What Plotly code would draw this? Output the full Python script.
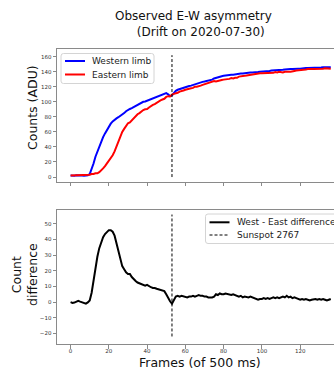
import plotly.graph_objects as go

# ---- data -------------------------------------------------------------
frames = list(range(137))

west_limb = [
    2.0, 1.6, 1.8, 2.4, 2.6, 2.2, 2.0, 1.6, 1.5, 2.2,
    4.0, 10, 18, 27, 34, 41, 47, 53, 58, 63,
    67, 71, 74, 76.5, 78, 79.5, 81, 83, 85, 87.5,
    89.5, 90.5, 91.5, 93, 94.5, 96, 97, 98.5, 100, 100.5,
    101.5, 102.5, 104, 105, 106, 107.5, 108.5, 109.5, 110.5, 111,
    111.5, 110, 107.5, 108.5, 112, 114.5, 116, 117, 118, 118.5,
    119.5, 120, 121, 121.5, 122.5, 123.5, 124, 125, 125.5, 126.5,
    127, 127.5, 128, 129, 129.5, 131, 132, 132.5, 133.5, 134,
    134.5, 135, 135.5, 135.5, 136, 136, 136.5, 136.5, 137, 137.5,
    137.5, 138, 138, 138.5, 139, 139, 139.5, 139.5, 139.5, 140,
    140, 140.5, 140.5, 141, 141, 141.5, 141.5, 142, 142, 142.5,
    142.5, 142.5, 143, 143.5, 143, 143.5, 143.5, 144, 144, 144,
    144, 144.5, 144.5, 145, 145, 145, 145, 145.5, 145.5, 145.5,
    145.5, 145.5, 146, 146, 145.5, 146, 146,
]

east_limb = [
    2.0, 2.1, 2.1, 1.9, 1.8, 1.9, 2.0, 2.2, 2.5, 2.4,
    3.0, 4, 4, 5, 5, 6.5, 8.5, 11.5, 14.5, 18,
    21, 25, 29, 34, 40.5, 48.5, 55, 60, 64, 68.5,
    71.5, 72.5, 75.5, 78.5, 81, 83.5, 85, 87.5, 89, 90,
    90.5, 92.5, 94.5, 96, 97, 99, 100.5, 102, 103, 104,
    106.5, 107.5, 107, 109.5, 110.5, 111, 112, 113.5, 114, 115,
    116, 117, 117.5, 118, 118.5, 120, 120, 120.5, 121.5, 122.5,
    123.5, 124, 125, 126, 126.5, 127.5, 127, 128, 128, 129,
    129.5, 129.5, 130.5, 130.5, 131.5, 131, 132, 132, 133.5, 133.5,
    134.5, 134.5, 135, 135.5, 135.5, 136, 137, 137.5, 138, 138,
    138, 138, 138.5, 138.5, 139, 139, 138.5, 139.5, 139, 140,
    139.5, 139, 140, 139.5, 140, 140, 141, 141, 141.5, 142,
    142.5, 142.5, 143, 143, 143.5, 144, 143.5, 143.5, 143.5, 144,
    143.5, 144, 144, 144.5, 144.5, 144.5, 144,
]

west_minus_east = [
    0.0, -0.5, -0.3, 0.5, 0.8, 0.3, 0.0, -0.6, -1.0, -0.2,
    1.0, 6, 14, 22, 29, 34.5, 38.5, 41.5, 43.5, 45,
    46, 46, 45, 42.5, 37.5, 31, 26, 23, 21, 19,
    18, 18, 16, 14.5, 13.5, 12.5, 12, 11, 11, 10.5,
    11, 10, 9.5, 9, 9, 8.5, 8, 7.5, 7.5, 7,
    5, 2.5, 0.5, -1, 1.5, 3.5, 4, 3.5, 4, 3.5,
    3.5, 3, 3.5, 3.5, 4, 3.5, 4, 4.5, 4, 4,
    3.5, 3.5, 3, 3, 3, 3.5, 5, 4.5, 5.5, 5,
    5, 5.5, 5, 5, 4.5, 5, 4.5, 4.5, 3.5, 4,
    3, 3.5, 3, 3, 3.5, 3, 2.5, 2, 1.5, 2,
    2, 2.5, 2, 2.5, 2, 2.5, 3, 2.5, 3, 2.5,
    3, 3.5, 3, 4, 3, 3.5, 2.5, 3, 2.5, 2,
    1.5, 2, 1.5, 2, 1.5, 1, 1.5, 2, 2, 1.5,
    2, 1.5, 2, 1.5, 1, 1.5, 2,
]

sunspot_frame = 53
sunspot_counts_span = [0, 162]
sunspot_diff_span = [-22, 56]

x_ticks = list(range(0, 141, 20))
counts_ticks = list(range(0, 161, 20))
diff_ticks = list(range(-20, 51, 10))

# ---- page geometry (pixels) -------------------------------------------
W, H = 334, 370
FONT = "DejaVu Sans"


def fx(p):
    return p / W


def fy(p):
    return 1 - p / H


AX_LEFT = 57
TOP_PANEL = (49, 181.7)
BOT_PANEL = (210, 344.3)
X_RANGE = [-7.1, 137.7]

SPINE = "#8a8a8a"
TICKFONT = dict(family=FONT, size=5.5, color="#333")
DASH = "3px,2px"

fig = go.Figure()

fig.add_trace(go.Scatter(
    x=frames, y=west_limb, mode="lines", name="Western limb",
    line=dict(color="#0000ff", width=2), xaxis="x", yaxis="y",
))
fig.add_trace(go.Scatter(
    x=frames, y=east_limb, mode="lines", name="Eastern limb",
    line=dict(color="#ff0000", width=2), xaxis="x", yaxis="y",
))
fig.add_trace(go.Scatter(
    x=[sunspot_frame, sunspot_frame], y=sunspot_counts_span, mode="lines",
    name="Sunspot 2767", line=dict(color="black", width=1, dash=DASH),
    xaxis="x", yaxis="y", hoverinfo="skip",
))
fig.add_trace(go.Scatter(
    x=frames, y=west_minus_east, mode="lines", name="West - East difference",
    line=dict(color="black", width=2), xaxis="x2", yaxis="y2",
))
fig.add_trace(go.Scatter(
    x=[sunspot_frame, sunspot_frame], y=sunspot_diff_span, mode="lines",
    name="Sunspot 2767", line=dict(color="black", width=1, dash=DASH),
    xaxis="x2", yaxis="y2", hoverinfo="skip",
))

common_axis = dict(
    showline=True, linecolor=SPINE, linewidth=1, ticks="outside", ticklen=3.5,
    tickwidth=1, tickcolor=SPINE, showgrid=False, zeroline=False, tickfont=TICKFONT,
)

fig.update_layout(
    width=W, height=H,
    margin=dict(l=0, r=0, t=0, b=0),
    paper_bgcolor="white", plot_bgcolor="white",
    showlegend=False,
    xaxis=dict(common_axis, domain=[fx(AX_LEFT), 1], range=X_RANGE, anchor="y",
               tickvals=x_ticks, showticklabels=False, mirror=True),
    yaxis=dict(common_axis, domain=[fy(TOP_PANEL[1]), fy(TOP_PANEL[0])],
               range=[-6.2, 170.2], anchor="x", tickvals=counts_ticks),
    xaxis2=dict(common_axis, domain=[fx(AX_LEFT), 1], range=X_RANGE, anchor="y2",
                tickvals=x_ticks, mirror=True, ticklabelstandoff=-2),
    yaxis2=dict(common_axis, domain=[fy(BOT_PANEL[1]), fy(BOT_PANEL[0])],
                range=[-27, 58.9], anchor="x2", tickvals=diff_ticks),
)

# ---- legends (drawn as framed keys in page pixels) ---------------------
shapes = []
annotations = []


def legend_box(x0, y0, x1, y1, entries, sample_x, text_x):
    r = 2.5
    path = (
        f"M {fx(x0 + r)} {fy(y0)} L {fx(x1 - r)} {fy(y0)} "
        f"Q {fx(x1)} {fy(y0)} {fx(x1)} {fy(y0 + r)} L {fx(x1)} {fy(y1 - r)} "
        f"Q {fx(x1)} {fy(y1)} {fx(x1 - r)} {fy(y1)} L {fx(x0 + r)} {fy(y1)} "
        f"Q {fx(x0)} {fy(y1)} {fx(x0)} {fy(y1 - r)} L {fx(x0)} {fy(y0 + r)} "
        f"Q {fx(x0)} {fy(y0)} {fx(x0 + r)} {fy(y0)} Z"
    )
    shapes.append(dict(type="path", path=path, xref="paper", yref="paper",
                       fillcolor="rgba(255,255,255,0.8)",
                       line=dict(color="#d4d4d4", width=1), layer="above"))
    for (label, color, width, dash, y) in entries:
        shapes.append(dict(type="line", xref="paper", yref="paper",
                           x0=fx(sample_x[0]), x1=fx(sample_x[1]), y0=fy(y), y1=fy(y),
                           line=dict(color=color, width=width, dash=dash),
                           layer="above"))
        annotations.append(dict(text=label, x=fx(text_x), y=fy(y), xanchor="left",
                                yanchor="middle", xref="paper", yref="paper",
                                showarrow=False,
                                font=dict(family=FONT, size=9, color="#222")))


legend_box(61, 53.5, 154, 83.5,
           [("Western limb", "#0000ff", 2, "solid", 61),
            ("Eastern limb", "#ff0000", 2, "solid", 74.5)],
           (65, 85), 90)
legend_box(205.5, 214, 345, 243.5,
           [("West - East difference", "black", 2, "solid", 222.3),
            ("Sunspot 2767", "black", 1, DASH, 235)],
           (209.5, 229.5), 235)

text_font = dict(family=FONT, size=12, color="#111")
labels = [
    dict(text="Observed E-W asymmetry", x=fx(193.5), y=fy(16), font=text_font),
    dict(text=" (Drift on 2020-07-30)", x=fx(199), y=fy(31.5), font=text_font),
    dict(text="Counts (ADU)", x=fx(32), y=fy(108), textangle=-90,
         font=dict(family=FONT, size=12.5, color="#111")),
    dict(text="Count<br>difference", x=fx(24), y=fy(275), textangle=-90,
         font=dict(family=FONT, size=12.5, color="#111")),
    dict(text="Frames (of 500 ms)", x=fx(200), y=fy(362),
         font=dict(family=FONT, size=12.5, color="#111")),
]
for a in labels:
    a.update(xref="paper", yref="paper", xanchor="center", yanchor="middle",
             showarrow=False)
annotations.extend(labels)

fig.update_layout(shapes=shapes, annotations=annotations)

fig.write_html("out.html")
